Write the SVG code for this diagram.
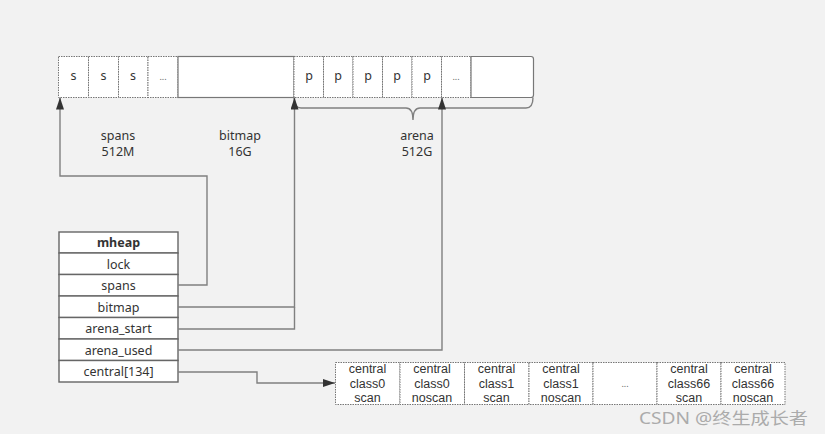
<svg xmlns="http://www.w3.org/2000/svg" width="825" height="434" viewBox="0 0 825 434">
<defs>
<marker id="ah" viewBox="0 0 12 8" refX="12" refY="4" markerWidth="12" markerHeight="8" markerUnits="userSpaceOnUse" orient="auto">
<path d="M0,0 L12,4 L0,8 Z" fill="#333"/>
</marker>
<style>
.bg{fill:#f2f2f2}
.dc{fill:#fff;stroke:#777;stroke-width:1;stroke-dasharray:1.5 1}
.sc{fill:#fff;stroke:#777;stroke-width:1.2}
.row{fill:#fff;stroke:#666;stroke-width:1.4}
.t{font-family:"Noto Sans","Open Sans","DejaVu Sans",sans-serif;font-size:12.5px;fill:#333;text-anchor:middle}
.c{font-family:"Liberation Sans",Arial,sans-serif;font-size:12.5px}
.b{font-weight:bold}
.el{font-size:9px;fill:#666}
.cn{fill:none;stroke:#808080;stroke-width:1.4}
.wm{font-family:"Noto Sans","Noto Sans CJK SC",sans-serif;font-size:16px;fill:#ababab}
</style>
</defs>
<rect class="bg" x="0" y="0" width="825" height="434"/>

<g id="memory-bar">
<rect class="dc" x="58.5" y="56.5" width="30" height="41"/>
<rect class="dc" x="88.5" y="56.5" width="30" height="41"/>
<rect class="dc" x="118.5" y="56.5" width="29.5" height="41"/>
<rect class="dc" x="148" y="56.5" width="30" height="41"/>
<rect class="sc" x="178" y="56.5" width="116" height="41"/>
<rect class="dc" x="294" y="56.5" width="29.5" height="41"/>
<rect class="dc" x="323.5" y="56.5" width="29.5" height="41"/>
<rect class="dc" x="353" y="56.5" width="29.5" height="41"/>
<rect class="dc" x="382.5" y="56.5" width="29.5" height="41"/>
<rect class="dc" x="412" y="56.5" width="29.5" height="41"/>
<rect class="dc" x="441.5" y="56.5" width="29.5" height="41"/>
<path class="sc" d="M471,56.5 H531 Q533.5,56.5 533.5,59 V95 Q533.5,97.5 531,97.5 H471 Z"/>
<text class="t" x="73.5" y="80">s</text>
<text class="t" x="103.5" y="80">s</text>
<text class="t" x="133" y="80">s</text>
<text class="t el" x="163" y="80">...</text>
<text class="t" x="309" y="80">p</text>
<text class="t" x="338" y="80">p</text>
<text class="t" x="368" y="80">p</text>
<text class="t" x="397" y="80">p</text>
<text class="t" x="427" y="80">p</text>
<text class="t el" x="456" y="80">...</text>
<path class="cn" d="M294,97.5 Q294,108 301,108 H406 Q413,108 413,120 Q413,108 420,108 H526 Q533,108 533,97.5"/>
</g>

<g id="labels">
<text class="t" x="118" y="140">spans</text>
<text class="t" x="118" y="156">512M</text>
<text class="t" x="240" y="140">bitmap</text>
<text class="t" x="240" y="156">16G</text>
<text class="t" x="417" y="140">arena</text>
<text class="t" x="417" y="156">512G</text>
</g>

<g id="mheap">
<rect class="row" x="59" y="232" width="119" height="21"/>
<rect class="row" x="59" y="253" width="119" height="21.5"/>
<rect class="row" x="59" y="274.5" width="119" height="21.5"/>
<rect class="row" x="59" y="296" width="119" height="21.5"/>
<rect class="row" x="59" y="317.5" width="119" height="21.5"/>
<rect class="row" x="59" y="339" width="119" height="21.5"/>
<rect class="row" x="59" y="360.5" width="119" height="21.5"/>
<text class="t b" x="118.5" y="247">mheap</text>
<text class="t" x="118.5" y="268.5">lock</text>
<text class="t" x="118.5" y="290">spans</text>
<text class="t" x="118.5" y="311.5">bitmap</text>
<text class="t" x="118.5" y="333">arena_start</text>
<text class="t" x="118.5" y="354.5">arena_used</text>
<text class="t" x="118.5" y="376">central[134]</text>
</g>

<g id="central-array">
<rect class="dc" x="335.5" y="362.5" width="64.5" height="42"/>
<rect class="dc" x="400" y="362.5" width="64.5" height="42"/>
<rect class="dc" x="464.5" y="362.5" width="64.5" height="42"/>
<rect class="dc" x="529" y="362.5" width="64" height="42"/>
<rect class="dc" x="593" y="362.5" width="64" height="42"/>
<rect class="dc" x="657" y="362.5" width="64" height="42"/>
<rect class="dc" x="721" y="362.5" width="64" height="42"/>
<text class="t c" x="367.5" y="372.5">central</text>
<text class="t c" x="367.5" y="387.5">class0</text>
<text class="t c" x="367.5" y="402">scan</text>
<text class="t c" x="432" y="372.5">central</text>
<text class="t c" x="432" y="387.5">class0</text>
<text class="t c" x="432" y="402">noscan</text>
<text class="t c" x="496.5" y="372.5">central</text>
<text class="t c" x="496.5" y="387.5">class1</text>
<text class="t c" x="496.5" y="402">scan</text>
<text class="t c" x="561" y="372.5">central</text>
<text class="t c" x="561" y="387.5">class1</text>
<text class="t c" x="561" y="402">noscan</text>
<text class="t el" x="625" y="387">...</text>
<text class="t c" x="689" y="372.5">central</text>
<text class="t c" x="689" y="387.5">class66</text>
<text class="t c" x="689" y="402">scan</text>
<text class="t c" x="753" y="372.5">central</text>
<text class="t c" x="753" y="387.5">class66</text>
<text class="t c" x="753" y="402">noscan</text>
</g>

<g id="connectors">
<path class="cn" d="M178,285 H207 V176 H60 V97.5" marker-end="url(#ah)"/>
<path class="cn" d="M178,307 H294.5 V97.5" marker-end="url(#ah)"/>
<path class="cn" d="M178,329 H294.5 V307"/>
<path class="cn" d="M178,350 H442 V97.5" marker-end="url(#ah)"/>
<path class="cn" d="M178,372 H257 V383 H335" marker-end="url(#ah)"/>
</g>

<text class="wm" x="639" y="424" textLength="169" lengthAdjust="spacingAndGlyphs">CSDN @终生成长者</text>
</svg>
